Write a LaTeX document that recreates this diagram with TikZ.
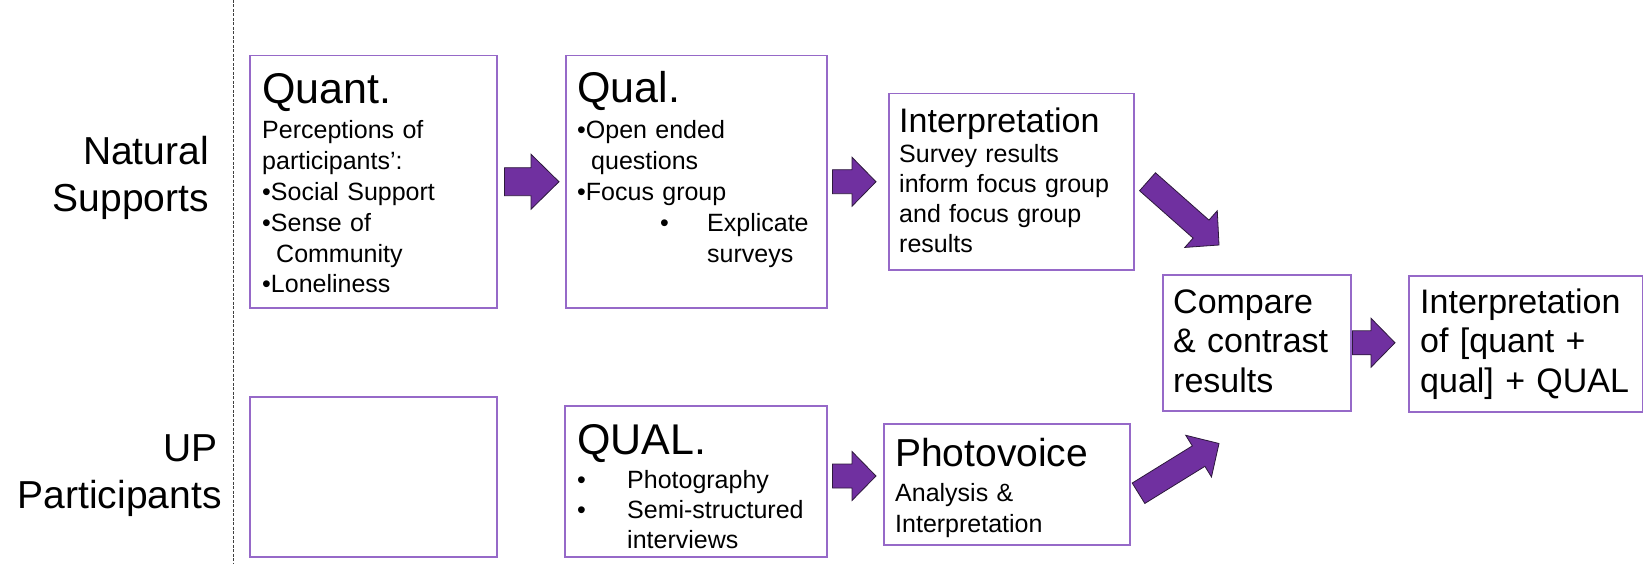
\documentclass[tikz,border=0pt]{standalone}
\usepackage{fontspec}
\setmainfont{Liberation Sans}
\usetikzlibrary{calc,positioning}
\definecolor{boxline}{RGB}{150,105,200}
\definecolor{arrowfill}{RGB}{112,48,160}
\definecolor{arrowline}{RGB}{45,25,60}
\tikzset{
	box/.style={draw=boxline, line width=1.5pt, fill=white, inner sep=0pt, anchor=north west},
	head/.style={anchor=base west, inner sep=0pt, font=\fontsize{43}{50}\selectfont},
	subhead/.style={anchor=base west, inner sep=0pt, align=left, text width=225pt, font=\fontsize{34}{39.5}\selectfont},
	body/.style={anchor=base west, inner sep=0pt, align=left, text width=236pt, font=\fontsize{25}{30.8}\selectfont},
	rowlabel/.style={anchor=base east, inner sep=0pt, align=right, text width=200pt, font=\fontsize{39}{47}\selectfont},
	fatfill/.style={fill=arrowfill, draw=arrowline, line width=0.8pt, line join=miter},
	divider/.style={draw=black!75, line width=1pt, dash pattern=on 3pt off 1.5pt}
}
\newcommand{\arrowdims}[3]{\def\shaftw{#1}\def\headw{#2}\def\headl{#3}}
\arrowdims{12pt}{24.5pt}{24pt}
\newcommand{\fatarrow}[2]{%
	\coordinate (fa-s) at #1;
	\coordinate (fa-e) at #2;
	\coordinate (fa-n) at ($(fa-e)!\headl!(fa-s)$);
	\filldraw[fatfill] ($(fa-s)!\shaftw!90:(fa-e)$) -- ($(fa-n)!\shaftw!90:(fa-e)$)
		-- ($(fa-n)!\headw!90:(fa-e)$) -- (fa-e) -- ($(fa-n)!\headw!-90:(fa-e)$)
		-- ($(fa-n)!\shaftw!-90:(fa-e)$) -- ($(fa-s)!\shaftw!-90:(fa-e)$) -- cycle;
}
\begin{document}
\begin{tikzpicture}[x=1pt, y=-1pt]
		\useasboundingbox (0,0) rectangle (1643,564);
		%zeilen
		\draw[divider] (233,0) -- (233,564);
		\node[rowlabel] (natlabel) at (209,165) {Natural\\Supports};
		\node[rowlabel] (uplabel) at (218,461) {UP\\Participants};
		%oben
		\node[box, minimum width=247pt, minimum height=252pt] (quant) at (249,55) {};
		\node[head] (quanthead) at ($(quant.north west)+(13,49)$) {Quant.};
		\node[body] (quantbody) at ($(quanthead.base west)+(0,35)$) {Perceptions of\\participants’:\\•Social Support\\•Sense of\\\hspace*{14pt}Community\\•Loneliness};
		\node[box, minimum width=261pt, minimum height=252pt] (qual) at (565,55) {};
		\node[head] (qualhead) at ($(qual.north west)+(12,48)$) {Qual.};
		\node[body] (qualbody) at ($(qualhead.base west)+(0,36)$) {•Open ended\\\hspace*{14pt}questions\\•Focus group\\\hspace*{83pt}\makebox[47pt][l]{•}Explicate\\\hspace*{130pt}surveys};
		\node[box, minimum width=245pt, minimum height=176pt] (interp) at (888,93) {};
		\node[subhead] (interphead) at ($(interp.north west)+(11,40)$) {Interpretation};
		\node[body, text width=232pt, font=\fontsize{25}{30}\selectfont] (interpbody) at ($(interphead.base west)+(0,30)$) {Survey results\\inform focus group\\and focus group\\results};
		%rechts
		\node[box, minimum width=188pt, minimum height=136pt] (compare) at (1162,274) {};
		\node[subhead, text width=175pt] (comparetext) at ($(compare.north west)+(11,39)$) {Compare\\\& contrast\\results};
		\node[box, minimum width=234pt, minimum height=136pt] (final) at (1408,275) {};
		\node[subhead] (finaltext) at ($(final.north west)+(12,38)$) {Interpretation\\of [quant +\\qual] + QUAL};
		%unten
		\node[box, minimum width=247pt, minimum height=160pt] (upempty) at (249,396) {};
		\node[box, minimum width=262pt, minimum height=151pt] (qualup) at (564,405) {};
		\node[head] (qualuphead) at ($(qualup.north west)+(13,49)$) {QUAL.};
		\node[body, font=\fontsize{25}{30}\selectfont] (qualupbody) at ($(qualuphead.base west)+(0,34)$) {\makebox[50pt][l]{•}Photography\\\makebox[50pt][l]{•}Semi-structured\\\hspace*{50pt}interviews};
		\node[box, minimum width=246pt, minimum height=121pt] (photo) at (883,423) {};
		\node[head, font=\fontsize{39}{46}\selectfont] (photohead) at ($(photo.north west)+(12,43)$) {Photovoice};
		\node[body, font=\fontsize{25}{31}\selectfont] (photobody) at ($(photohead.base west)+(0,35)$) {Analysis \&\\Interpretation};
		%pfeile
		\arrowdims{14pt}{27.5pt}{28pt}
		\fatarrow{([xshift=7pt]quant.east)}{([xshift=-6pt]qual.west)}
		\arrowdims{12pt}{24.5pt}{24pt}
		\fatarrow{([xshift=5pt]qual.east)}{([xshift=-12pt]interp.west)}
		\fatarrow{($(interp.east)+(13,0)$)}{($(compare.north west)+(57,-29)$)}
		\fatarrow{($(qualup.north east)+(5,71)$)}{($(photo.north west)+(-7,53)$)}
		\fatarrow{($(photo.east)+(8,9)$)}{($(compare.south west)+(57,32)$)}
		\fatarrow{([xshift=1pt]compare.east)}{($(final.west |- compare.east)+(-13,0)$)}
\end{tikzpicture}
\end{document}
